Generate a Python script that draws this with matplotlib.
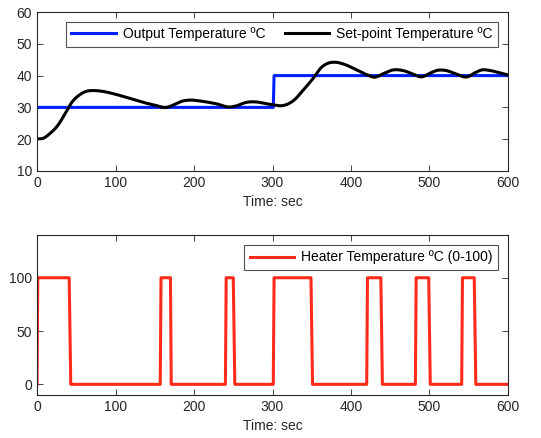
import matplotlib
matplotlib.use('Agg')
import matplotlib.pyplot as plt
import numpy as np

# Set-point step (deg C)
sp_time = [0, 301, 302, 600]
sp_temp = [30, 30, 40, 40]

# Measured temperature response (deg C)
pv_time = [0, 8, 17, 27, 37, 45, 54, 62, 72, 82, 99, 117, 135, 150, 165, 174,
           184, 195, 208, 229, 246, 254, 267, 280, 293, 301, 310, 318, 327,
           339, 352, 362, 372, 380, 392, 407, 420, 430, 441, 454, 466, 479,
           490, 500, 511, 521, 534, 548, 558, 567, 577, 589, 600]
pv_temp = [20.1, 20.3, 21.9, 24.5, 28.6, 31.8, 33.9, 35.0, 35.3, 35.1, 34.2,
           32.9, 31.6, 30.7, 30.0, 30.8, 31.9, 32.3, 32.0, 31.1, 30.1, 30.5,
           31.6, 31.7, 31.1, 30.8, 30.5, 30.9, 32.2, 35.4, 39.2, 42.5, 44.0,
           44.2, 43.5, 41.8, 40.3, 39.5, 40.6, 41.8, 41.6, 40.5, 39.6, 40.7,
           41.7, 41.6, 40.5, 39.6, 40.9, 41.8, 41.6, 40.9, 40.2]

# Heater on/off (0-100)
heat_time = [0, 1, 41, 43, 157, 158, 170, 171, 240, 241, 250, 252, 301, 302,
             349, 351, 420, 421, 438, 440, 482, 483, 499, 501, 541, 542, 557, 559, 600]
heat_pwr = [0, 100, 100, 0, 0, 100, 100, 0, 0, 100, 100, 0, 0, 100,
            100, 0, 0, 100, 100, 0, 0, 100, 100, 0, 0, 100, 100, 0, 0]


def hermite_smooth(x, y, n=15):
    """Cubic Hermite curve through (x, y) with finite-difference slopes."""
    x = np.asarray(x, float)
    y = np.asarray(y, float)
    m = np.gradient(y, x)
    xs, ys = [], []
    s = np.linspace(0, 1, n, endpoint=False)
    for i in range(len(x) - 1):
        h = x[i + 1] - x[i]
        h00 = 2 * s**3 - 3 * s**2 + 1
        h10 = s**3 - 2 * s**2 + s
        h01 = -2 * s**3 + 3 * s**2
        h11 = s**3 - s**2
        xs.append(x[i] + s * h)
        ys.append(h00 * y[i] + h10 * h * m[i] + h01 * y[i + 1] + h11 * h * m[i + 1])
    xs.append([x[-1]])
    ys.append([y[-1]])
    return np.concatenate(xs), np.concatenate(ys)


plt.rcParams['font.family'] = ['Liberation Sans', 'DejaVu Sans']
plt.rcParams['font.size'] = 10
txt = '#262626'

fig = plt.figure(figsize=(5.41, 4.38), dpi=100)
ax1 = fig.add_axes([0.0684, 0.6096, 0.8706, 0.363])
ax2 = fig.add_axes([0.0684, 0.0982, 0.8706, 0.365])

pv_t, pv_y = hermite_smooth(pv_time, pv_temp)

ax1.plot(sp_time, sp_temp, color='#0020ff', lw=2.2, label='Output Temperature ºC')
ax1.plot(pv_t, pv_y, color='black', lw=2.2, label='Set-point Temperature ºC')
ax1.set_xlim(0, 600)
ax1.set_ylim(10, 60)
ax1.set_yticks(range(10, 61, 10))
ax1.set_xlabel('Time: sec', color=txt, labelpad=4)
leg1 = ax1.legend(loc='upper right', ncol=2, frameon=True, fancybox=False,
                  edgecolor=txt, handlelength=3.2, columnspacing=1.4,
                  handletextpad=0.5, borderaxespad=0.7, borderpad=0.4)
leg1.get_frame().set_linewidth(0.8)

ax2.plot(heat_time, heat_pwr, color='#ff2a1a', lw=2.2, label='Heater Temperature ºC (0-100)')
ax2.set_xlim(0, 600)
ax2.set_ylim(-10, 140)
ax2.set_yticks([0, 50, 100])
ax2.set_xlabel('Time: sec', color=txt, labelpad=4)
leg2 = ax2.legend(loc='upper right', frameon=True, fancybox=False,
                  edgecolor=txt, handlelength=3.2, handletextpad=0.5,
                  borderaxespad=0.7, borderpad=0.4)
leg2.get_frame().set_linewidth(0.8)

for ax in (ax1, ax2):
    ax.set_xticks(range(0, 601, 100))
    ax.tick_params(direction='in', top=True, right=True, colors=txt,
                   labelcolor=txt, length=4, width=0.6, labelsize=10)
    for s in ax.spines.values():
        s.set_color(txt)
        s.set_linewidth(0.8)

fig.savefig('out.png', dpi=100)
